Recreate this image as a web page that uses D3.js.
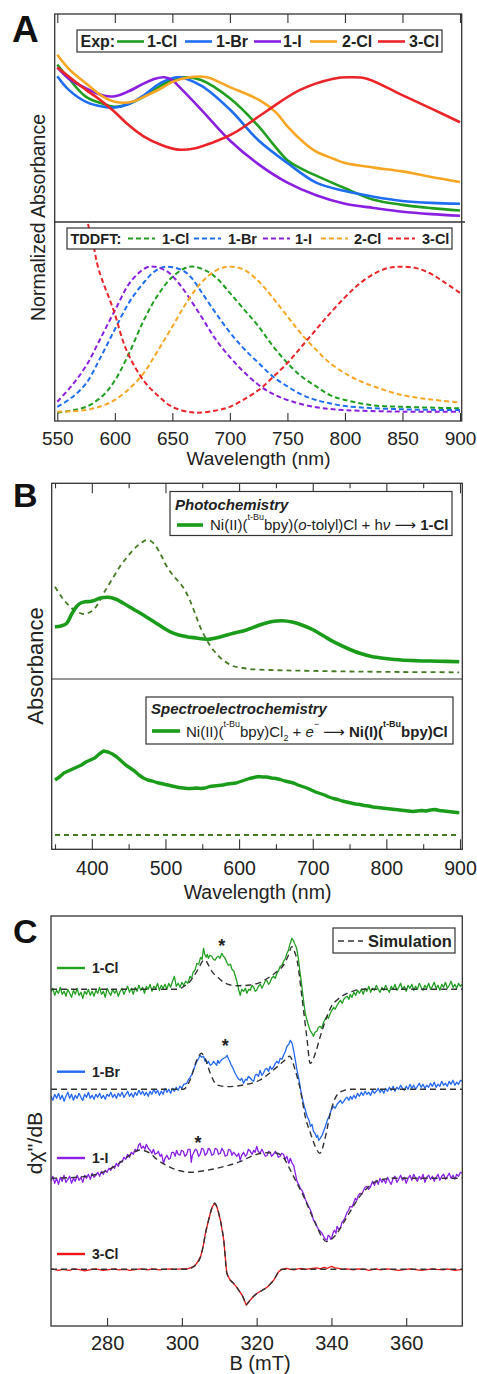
<!DOCTYPE html>
<html lang="en">
<head>
<meta charset="UTF-8">
<title>Ni(I) spectra</title>
<script src="https://d3js.org/d3.v7.min.js"></script>
<style>
  body { margin: 0; background: #fff; }
  text { font-family: "Liberation Sans", Arial, "DejaVu Sans", sans-serif; fill: #222; }
</style>
</head>
<body>
<svg id="fig" width="477" height="1374"></svg>
<script>
// ---------- panel A : normalized UV-vis, experiment (top) and TDDFT (bottom) ----------
const namesA = ["1-Cl", "1-Br", "1-I", "2-Cl", "3-Cl"]
const colorsA = ["#1f9e1f", "#1f6ef2", "#8a1fe0", "#f6a623", "#ea2428"]

const exp1Cl = [[550,1.09],[560,0.99],[575,0.86],[590,0.81],[600,0.79],[612,0.81],[625,0.86],[640,0.94],[650,0.98],[660,1.0],[675,0.98],[700,0.85],[725,0.65],[737,0.53],[750,0.41],[762,0.35],[775,0.30],[800,0.21],[825,0.128],[850,0.092],[875,0.069],[900,0.052]]
const exp1Br = [[550,1.007],[560,0.91],[575,0.825],[590,0.79],[600,0.785],[612,0.81],[625,0.87],[640,0.96],[655,1.0],[675,0.94],[700,0.77],[725,0.55],[750,0.39],[775,0.25],[800,0.19],[825,0.15],[850,0.12],[875,0.106],[900,0.10]]
const exp1I = [[550,1.07],[560,0.99],[575,0.92],[590,0.87],[600,0.865],[612,0.90],[625,0.955],[635,0.99],[643,1.0],[650,0.98],[655,0.94],[675,0.77],[700,0.55],[725,0.38],[750,0.25],[775,0.16],[800,0.10],[825,0.07],[850,0.043],[875,0.026],[900,0.014]]
const exp2Cl = [[550,1.16],[560,1.06],[575,0.955],[590,0.86],[600,0.825],[615,0.825],[625,0.86],[640,0.92],[650,0.967],[665,1.0],[680,1.0],[700,0.93],[725,0.84],[740,0.75],[750,0.65],[765,0.53],[775,0.47],[790,0.42],[800,0.39],[825,0.357],[850,0.33],[875,0.29],[900,0.255]]
const exp3Cl = [[550,1.07],[575,0.91],[587,0.84],[599,0.76],[612,0.66],[625,0.58],[640,0.52],[655,0.485],[670,0.495],[685,0.535],[703,0.60],[732,0.76],[761,0.91],[790,0.99],[804,1.0],[819,0.99],[848,0.88],[877,0.77],[900,0.68]]

const td1Cl = [[550,0.0],[575,0.04],[590,0.12],[600,0.22],[612,0.40],[625,0.63],[637,0.80],[650,0.93],[665,1.0],[680,0.97],[690,0.91],[700,0.82],[712,0.71],[725,0.59],[737,0.46],[750,0.34],[762,0.25],[775,0.18],[787,0.12],[800,0.087],[825,0.05],[850,0.04],[900,0.03]]
const td1Br = [[550,0.04],[562,0.10],[575,0.20],[587,0.37],[600,0.57],[612,0.75],[625,0.89],[635,0.97],[645,1.0],[660,0.97],[667,0.92],[675,0.83],[687,0.69],[700,0.55],[712,0.44],[725,0.34],[737,0.25],[750,0.18],[762,0.125],[775,0.087],[800,0.046],[850,0.023],[900,0.018]]
const td1I = [[550,0.075],[562,0.18],[575,0.32],[587,0.50],[600,0.70],[615,0.91],[630,1.0],[645,0.97],[652,0.92],[660,0.84],[675,0.66],[687,0.51],[700,0.38],[712,0.28],[725,0.19],[737,0.13],[750,0.087],[775,0.037],[800,0.018],[850,0.007],[900,0.007]]
const td2Cl = [[550,0.007],[575,0.018],[590,0.05],[600,0.087],[612,0.16],[625,0.27],[637,0.42],[650,0.59],[662,0.75],[675,0.89],[687,0.97],[698,1.0],[712,0.98],[725,0.90],[737,0.79],[750,0.66],[762,0.54],[775,0.43],[787,0.34],[800,0.27],[812,0.22],[825,0.18],[850,0.12],[875,0.09],[900,0.07]]
const td3Cl = [[550,2.2],[565,1.6],[576,1.31],[581,1.16],[586,0.98],[599,0.70],[610,0.43],[625,0.22],[637,0.12],[650,0.04],[670,0.0],[690,0.018],[700,0.04],[712,0.09],[725,0.155],[737,0.24],[750,0.34],[762,0.45],[775,0.57],[787,0.68],[800,0.79],[812,0.88],[825,0.95],[837,0.99],[848,1.0],[862,0.99],[875,0.95],[887,0.89],[900,0.82]]

const ticksA = [550, 600, 650, 700, 750, 800, 850, 900]

// ---------- panel B : absorbance ----------
const photoSolid = [[350,0.523],[358,0.53],[366,0.557],[372,0.64],[379,0.723],[385,0.76],[391,0.773],[397,0.775],[402,0.783],[412,0.81],[422,0.817],[432,0.80],[443,0.757],[456,0.70],[470,0.64],[488,0.555],[506,0.473],[518,0.44],[529,0.423],[542,0.41],[556,0.397],[574,0.42],[592,0.457],[610,0.49],[628,0.54],[645,0.575],[658,0.583],[672,0.57],[687,0.535],[701,0.49],[715,0.43],[728,0.373],[746,0.31],[764,0.257],[780,0.225],[796,0.207],[820,0.19],[841,0.183],[870,0.178],[899,0.173]]
const photoDash = [[350,0.923],[358,0.83],[366,0.757],[376,0.69],[388,0.65],[395,0.66],[402,0.69],[409,0.76],[416,0.857],[427,0.99],[438,1.123],[447,1.21],[456,1.29],[465,1.35],[474,1.39],[480,1.38],[486,1.34],[494,1.24],[502,1.123],[511,1.03],[520,0.957],[527,0.88],[533,0.79],[540,0.66],[547,0.523],[556,0.39],[565,0.29],[578,0.19],[592,0.13],[605,0.11],[619,0.097],[650,0.088],[683,0.083],[750,0.075],[820,0.07],[899,0.067]]
const secSolid = [[350,0.59],[356,0.62],[362,0.66],[368,0.68],[374,0.70],[380,0.72],[386,0.74],[392,0.77],[398,0.79],[404,0.81],[410,0.85],[416,0.88],[422,0.87],[428,0.85],[434,0.82],[440,0.78],[446,0.74],[452,0.71],[458,0.68],[464,0.64],[470,0.61],[476,0.59],[482,0.58],[488,0.565],[494,0.555],[500,0.545],[506,0.535],[512,0.525],[518,0.515],[524,0.51],[530,0.505],[536,0.505],[542,0.51],[548,0.505],[554,0.51],[560,0.525],[566,0.53],[572,0.535],[578,0.54],[584,0.55],[590,0.555],[596,0.56],[602,0.575],[608,0.59],[614,0.605],[620,0.615],[626,0.625],[632,0.62],[638,0.62],[644,0.61],[650,0.605],[656,0.595],[662,0.58],[668,0.57],[674,0.56],[680,0.54],[686,0.525],[692,0.51],[698,0.49],[704,0.47],[710,0.455],[716,0.44],[722,0.42],[728,0.405],[734,0.395],[740,0.38],[746,0.37],[752,0.36],[758,0.35],[764,0.345],[770,0.335],[776,0.33],[782,0.32],[788,0.315],[794,0.31],[800,0.305],[806,0.30],[812,0.295],[818,0.29],[824,0.285],[830,0.28],[836,0.275],[842,0.28],[848,0.285],[854,0.28],[860,0.29],[866,0.295],[872,0.285],[878,0.28],[884,0.275],[890,0.27],[899,0.263]]
const secDash = [[350,0.04],[899,0.04]]

const majorB = [400, 500, 600, 700, 800, 900]
const minorB = [350, 450, 550, 650, 750, 850]

// ---------- panel C : EPR, B in mT, signal in arbitrary units ----------
const namesC = ["1-Cl", "1-Br", "1-I", "3-Cl"]
const colorsC = ["#22a022", "#2468f2", "#8b1fe6", "#ee1414"]
const offsetsC = [33.67, 23.67, 14.77, 5.67]

const epr1Cl = [[265,-0.3],[265.5,0.1],[266,-0.6],[266.5,-0.1],[267,-0.4],[267.5,0.2],[268,-0.5],[268.5,-0.2],[269,-0.7],[269.5,0.0],[270,-0.4],[270.5,-0.8],[271,-0.1],[271.5,-0.5],[272,0.1],[272.5,-0.6],[273,-0.3],[273.5,-0.9],[274,-0.2],[274.5,-0.5],[275,0.0],[275.5,-0.6],[276,-0.2],[276.5,-0.7],[277,-0.1],[277.5,-0.4],[278,0.2],[278.5,-0.5],[279,-0.2],[279.5,-0.8],[280,0.1],[280.5,-0.3],[281,-0.6],[281.5,0.0],[282,-0.4],[282.5,-0.1],[283,-0.7],[283.5,-0.2],[284,0.1],[284.5,-0.5],[285,-0.1],[285.5,0.3],[286,-0.3],[286.5,0.1],[287,-0.5],[287.5,0.2],[288,-0.2],[288.5,0.4],[289,-0.1],[289.5,0.2],[290,-0.4],[290.5,0.3],[291,0.0],[291.5,0.5],[292,-0.2],[292.5,0.3],[293,0.1],[293.5,0.6],[294,-0.1],[294.5,0.4],[295,0.1],[295.5,0.5],[296,0.0],[296.5,0.6],[297,0.2],[297.5,0.8],[298,1.3],[298.5,0.3],[299,0.6],[299.5,0.2],[300,0.7],[300.5,0.4],[301,0.8],[301.6,0.6],[302.2,1.3],[302.6,1.1],[303,1.7],[303.5,1.9],[304,2.6],[304.5,2.5],[305,3.2],[305.4,3.0],[305.8,4.1],[306.2,3.4],[306.5,3.2],[306.8,3.5],[307.1,3.1],[307.5,3.4],[308,3.3],[308.4,3.0],[308.9,2.9],[309.3,3.2],[309.8,3.3],[310.2,3.1],[310.7,3.6],[311.1,3.3],[311.6,3.1],[312,2.7],[312.5,2.4],[313,2.5],[313.4,2.0],[313.9,1.8],[314.3,1.3],[314.7,0.8],[315,0.3],[315.3,-0.2],[315.6,-0.6],[316,0.0],[316.5,-0.2],[317,0.1],[317.4,-0.4],[317.9,0.0],[318.3,-0.1],[318.8,0.4],[319.2,0.2],[319.6,-0.2],[320,-0.1],[320.5,0.3],[321,0.5],[321.4,0.1],[321.8,0.4],[322.3,0.8],[322.7,0.9],[323.2,0.5],[323.6,0.7],[324,1.1],[324.5,1.3],[325,1.1],[325.4,1.6],[325.9,1.9],[326.3,2.3],[326.8,2.4],[327.2,2.8],[327.7,3.1],[328.1,3.6],[328.5,3.9],[328.8,4.4],[329.1,4.7],[329.4,5.1],[329.8,4.9],[330.1,4.6],[330.5,4.3],[330.8,3.9],[331.2,3.0],[331.5,2.0],[331.8,1.2],[332.1,0.3],[332.5,-1.0],[333,-2.4],[333.6,-3.3],[334.3,-4.1],[334.8,-4.4],[335.2,-4.7],[335.6,-4.3],[336.1,-4.2],[336.5,-3.8],[337,-3.7],[337.4,-3.9],[337.9,-3.3],[338.3,-3.0],[338.8,-2.7],[339.2,-2.9],[339.7,-2.4],[340.1,-2.1],[340.6,-1.8],[341,-2.0],[341.5,-1.6],[342,-1.3],[342.4,-1.1],[342.9,-1.4],[343.3,-1.0],[343.8,-0.8],[344.2,-0.7],[344.7,-1.0],[345,-0.5],[345.5,-0.8],[346,-0.3],[346.5,-0.6],[347,-0.1],[347.5,-0.4],[348,0.0],[348.5,-0.5],[349,0.1],[349.5,-0.2],[350,0.3],[350.5,-0.3],[351,0.1],[351.5,-0.1],[352,0.4],[352.5,0.0],[353,-0.3],[353.5,0.2],[354,-0.1],[354.5,0.4],[355,0.0],[355.5,-0.3],[356,0.3],[356.5,0.0],[357,0.5],[357.5,-0.1],[358,0.2],[358.5,0.6],[359,0.0],[359.5,0.3],[360,-0.2],[360.5,0.4],[361,0.1],[361.5,0.5],[362,-0.1],[362.5,0.3],[363,0.0],[363.5,0.6],[364,0.2],[364.5,-0.1],[365,0.4],[365.5,0.1],[366,0.6],[366.5,0.0],[367,0.3],[367.5,0.7],[368,0.1],[368.5,0.4],[369,-0.1],[369.5,0.5],[370,0.2],[370.5,0.7],[371,0.1],[371.5,0.4],[372,0.8],[372.5,0.2],[373,0.5],[373.5,0.1],[374,0.6],[374.5,0.3],[375,0.5]]
const sim1Cl = [[265,0],[299,0],[300.4,0.27],[302,0.7],[303.1,1.27],[304.5,2.1],[305.5,2.8],[306.2,2.93],[307.1,2.43],[308.2,1.7],[309.4,1.27],[311,0.75],[313,0.43],[315.5,0.35],[318.3,0.43],[321,0.7],[323.6,1.27],[325.5,1.8],[327.2,2.43],[328.5,3.4],[329.4,4.27],[330.1,3.8],[330.8,2.93],[332.1,-0.73],[333.5,-5.07],[334.3,-7.4],[335.7,-6.4],[337,-4.73],[338.8,-2.73],[340,-1.7],[341.5,-1.07],[344.2,-0.4],[346,-0.15],[348,0],[375,0]]

const epr1Br = [[265,-0.7],[265.5,-1.1],[266,-0.5],[266.5,-0.9],[267,-0.4],[267.5,-1.0],[268,-0.6],[268.5,-1.2],[269,-0.7],[269.5,-0.3],[270,-0.9],[270.5,-0.5],[271,-1.1],[271.5,-0.6],[272,-0.9],[272.5,-0.4],[273,-0.8],[273.5,-1.1],[274,-0.5],[274.5,-0.8],[275,-0.3],[275.5,-0.9],[276,-0.6],[276.5,-1.0],[277,-0.5],[277.5,-0.8],[278,-0.4],[278.5,-0.9],[279,-0.6],[279.5,-1.0],[280,-0.5],[280.5,-0.7],[281,-0.3],[281.5,-0.8],[282,-0.5],[282.5,-0.9],[283,-0.4],[283.5,-0.7],[284,-0.3],[284.5,-0.8],[285,-0.5],[285.5,-0.2],[286,-0.7],[286.5,-0.4],[287,-0.8],[287.5,-0.3],[288,-0.6],[288.5,-0.1],[289,-0.5],[289.5,-0.2],[290,-0.6],[290.5,-0.3],[291,-0.7],[291.5,-0.2],[292,-0.5],[292.5,0.0],[293,-0.4],[293.5,-0.1],[294,-0.6],[294.5,-0.2],[295,-0.5],[295.5,0.1],[296,-0.3],[296.5,0.0],[297,-0.4],[297.5,0.1],[298,-0.2],[298.5,0.2],[299,-0.1],[299.5,0.3],[300,0.1],[300.5,0.5],[301.3,0.6],[301.8,1.0],[302.2,1.2],[302.7,1.5],[303.1,1.9],[303.6,2.4],[304,2.8],[304.5,3.1],[304.9,3.4],[305.3,3.2],[305.8,3.3],[306.2,2.8],[306.5,2.9],[306.8,2.6],[307.1,2.8],[307.6,2.4],[308,2.5],[308.5,2.8],[308.9,2.6],[309.3,2.4],[309.6,2.9],[310,2.6],[310.3,2.8],[310.8,3.0],[311.2,3.1],[311.7,3.2],[312.1,3.4],[312.5,3.0],[312.8,2.8],[313.1,2.5],[313.4,2.3],[313.8,2.0],[314.1,1.7],[314.4,1.5],[314.7,1.3],[315.2,1.0],[315.6,0.9],[316,1.1],[316.5,0.6],[317,1.0],[317.4,0.9],[317.8,1.3],[318.3,1.1],[318.8,0.9],[319.2,0.8],[319.6,1.4],[320,1.5],[320.5,1.3],[320.9,1.9],[321.4,1.4],[321.8,1.6],[322.3,2.0],[322.7,2.1],[323.2,1.8],[323.6,2.3],[324,2.0],[324.5,2.2],[325,2.6],[325.4,2.8],[325.9,2.6],[326.3,3.1],[326.8,3.0],[327.2,3.4],[327.7,3.8],[328.1,4.3],[328.6,4.5],[329,4.9],[329.5,4.6],[329.9,3.9],[330.4,2.8],[330.8,1.9],[331.2,1.2],[331.5,0.6],[331.8,-0.1],[332.1,-0.7],[332.8,-1.8],[333.5,-2.7],[334,-3.1],[334.4,-3.7],[334.8,-3.5],[335.2,-4.2],[335.6,-4.4],[336,-4.8],[336.3,-4.6],[336.6,-5.1],[337,-4.9],[337.5,-4.6],[338,-4.1],[338.4,-3.7],[339,-3.0],[339.5,-2.6],[340,-2.0],[340.6,-1.7],[341,-1.9],[341.5,-1.5],[342,-1.3],[342.4,-1.1],[342.9,-1.4],[343.3,-1.2],[343.8,-0.9],[344.2,-0.8],[344.7,-1.1],[345.1,-0.7],[345.5,-1.0],[346,-0.6],[346.5,-0.9],[347,-0.4],[347.5,-0.7],[348,-0.3],[348.5,-0.6],[349,-0.2],[349.5,-0.5],[350,-0.3],[350.5,-0.6],[351,-0.1],[351.5,-0.4],[352,-0.2],[352.5,0.1],[353,-0.3],[353.5,0.0],[354,-0.4],[354.5,0.1],[355,-0.2],[355.5,0.2],[356,-0.1],[356.5,0.3],[357,-0.2],[357.5,0.2],[358,0.0],[358.5,0.4],[359,0.1],[359.5,-0.1],[360,0.3],[360.5,0.0],[361,0.5],[361.5,0.1],[362,0.4],[362.5,0.0],[363,0.3],[363.5,0.6],[364,0.2],[364.5,0.5],[365,0.1],[365.5,0.4],[366,0.2],[366.5,0.6],[367,0.3],[367.5,0.7],[368,0.2],[368.5,0.5],[369,0.3],[369.5,0.8],[370,0.4],[370.5,0.6],[371,0.3],[371.5,0.8],[372,0.5],[372.5,0.9],[373,0.4],[373.5,0.7],[374,0.5],[374.5,0.9],[375,0.8]]
const sim1Br = [[265,0],[300.4,0],[302.2,0.93],[304,2.93],[305.2,3.6],[306.2,3.1],[307.6,1.6],[309.4,0.43],[312.1,0.27],[316.5,0.43],[320.9,0.93],[324.5,1.93],[327.2,2.8],[328.8,3.3],[330.3,1.93],[331.7,-0.07],[333,-2.73],[334.4,-4.4],[335.7,-5.73],[336.9,-6.4],[338.4,-4.73],[339.7,-2.4],[341.5,-0.57],[343.3,-0.13],[345,0],[375,0]]

const epr1I = [[265,-0.3],[265.5,0.2],[266,-0.5],[266.5,0.0],[267,-0.6],[267.5,0.1],[268,-0.3],[268.5,0.3],[269,-0.4],[269.5,-0.1],[270,0.2],[270.5,-0.5],[271,0.0],[271.5,-0.3],[272,0.3],[272.5,-0.2],[273,0.1],[273.5,-0.4],[274,0.3],[274.5,0.0],[275,0.4],[275.5,-0.1],[276,0.5],[276.5,0.1],[277,0.3],[277.5,0.6],[278,0.2],[278.5,0.7],[279,0.4],[279.5,0.8],[280,0.6],[280.5,1.0],[281,0.8],[281.5,1.2],[282,1.0],[282.5,1.5],[283,1.2],[283.5,1.7],[284,1.6],[284.5,2.1],[285,1.9],[285.5,2.4],[286,2.1],[286.5,2.6],[287,2.4],[287.5,2.9],[288,2.7],[288.4,3.3],[288.8,3.5],[289.2,3.0],[289.7,3.2],[290.1,2.9],[290.5,3.4],[291,3.0],[291.5,2.8],[292,2.5],[292.4,2.9],[292.8,2.4],[293.3,2.5],[293.7,2.7],[294.2,2.2],[294.6,2.4],[295.1,1.5],[295.5,2.0],[296,2.3],[296.5,1.9],[296.9,2.0],[297.3,2.6],[297.8,2.6],[298.2,2.2],[298.6,2.8],[299,2.4],[299.5,2.3],[299.9,2.8],[300.4,2.7],[300.8,2.2],[301.3,2.4],[301.7,2.9],[302.2,2.9],[302.5,1.6],[302.8,2.3],[303.1,2.5],[303.6,2.9],[304,2.8],[304.5,2.2],[304.9,2.4],[305.3,3.0],[305.8,2.9],[306.2,2.3],[306.7,2.5],[307.1,3.0],[307.6,2.8],[308,2.3],[308.5,2.4],[308.9,3.0],[309.4,2.9],[309.8,2.4],[310.3,2.5],[310.7,3.0],[311.2,2.7],[311.6,2.2],[312.1,2.3],[312.5,2.9],[313,2.8],[313.4,2.3],[313.8,2.6],[314.3,2.4],[314.7,2.2],[315.2,2.5],[315.6,1.8],[316,2.3],[316.5,2.6],[317,2.2],[317.4,2.4],[317.8,2.9],[318.3,2.7],[318.8,2.4],[319.2,2.8],[319.6,2.6],[320,3.2],[320.4,2.7],[320.9,2.5],[321.4,2.9],[321.8,2.6],[322.3,2.2],[322.8,2.3],[323.2,2.7],[323.6,2.6],[324,2.2],[324.5,2.4],[325,2.7],[325.4,2.5],[325.8,2.1],[326.3,2.2],[326.7,2.5],[327.2,2.4],[327.6,1.9],[328.1,2.2],[328.6,1.5],[329,2.0],[329.5,1.5],[329.9,1.3],[330.4,0.4],[330.8,-0.3],[331.2,-0.6],[331.7,-1.0],[332.1,-1.2],[332.6,-1.6],[333,-2.1],[333.5,-2.5],[334,-2.9],[334.4,-3.2],[334.8,-3.6],[335.2,-4.2],[335.7,-4.4],[336.1,-4.8],[336.5,-5.1],[337,-5.3],[337.5,-5.5],[337.9,-5.8],[338.4,-6.1],[338.8,-6.2],[339.1,-5.7],[339.5,-5.8],[339.8,-6.1],[340.1,-5.9],[340.5,-5.4],[340.8,-5.2],[341.2,-5.5],[341.5,-4.8],[342,-5.1],[342.4,-5.0],[342.8,-4.4],[343.3,-4.2],[343.7,-3.9],[344.2,-3.4],[344.6,-3.2],[345,-2.8],[345.5,-2.9],[345.9,-2.5],[346.4,-2.0],[346.8,-2.2],[347.2,-1.7],[347.7,-1.5],[348.1,-1.6],[348.6,-1.2],[349,-0.9],[349.5,-0.8],[349.9,-1.1],[350.4,-0.9],[351,-0.3],[351.5,-0.7],[352,-0.2],[352.5,-0.6],[353,0.0],[353.5,-0.4],[354,-0.1],[354.5,-0.5],[355,0.1],[355.5,-0.3],[356,-0.6],[356.5,0.0],[357,0.2],[357.5,-0.4],[358,-0.1],[358.5,0.3],[359,-0.2],[359.5,0.1],[360,-0.5],[360.5,0.0],[361,0.3],[361.5,-0.2],[362,0.4],[362.5,0.0],[363,-0.3],[363.5,0.2],[364,-0.1],[364.5,0.4],[365,-0.4],[365.5,0.1],[366,0.3],[366.5,-0.1],[367,0.2],[367.5,-0.3],[368,0.1],[368.5,0.4],[369,-0.2],[369.5,0.2],[370,0.4],[370.5,-0.1],[371,0.2],[371.5,0.5],[372,0.0],[372.5,0.3],[373,-0.1],[373.5,0.4],[374,0.2],[374.5,0.6],[375,0.5]]
const sim1I = [[265,0],[273.7,0.17],[278,0.5],[282.6,1.33],[286,2.3],[288.8,2.83],[291.5,2.5],[293.3,1.9],[296.9,1.1],[299.5,0.75],[302.2,0.6],[305,0.7],[309.4,1.0],[312.5,1.3],[315.6,1.67],[318,2.1],[320,2.4],[322.8,2.55],[325.4,2.5],[327.3,2.0],[329,0.83],[330.8,-0.5],[332.6,-1.83],[334.5,-3.5],[336.1,-4.83],[337.5,-5.9],[338.6,-6.33],[340,-6.1],[341.5,-5.5],[343.3,-4.4],[345,-3.33],[347.2,-2.0],[349.5,-1.0],[351.5,-0.4],[354,-0.1],[356,0],[375,0]]

const epr3Cl = [[265,0.05],[267,-0.1],[268,0.0],[270,-0.1],[271,0.05],[273,-0.05],[274,-0.15],[276,0.0],[277,0.05],[279,-0.1],[280,-0.05],[282,0.05],[283,-0.05],[285,0.0],[286,-0.1],[288,0.0],[289,0.05],[291,-0.05],[292,0.05],[294,-0.05],[295,0.0],[297,0.05],[298,0.0],[300,0.05],[301.5,0.05],[303.1,0.27],[304,0.6],[305,1.27],[305.7,2.3],[306.3,3.6],[307,4.7],[307.6,5.6],[308.2,6.3],[308.8,6.6],[309.4,6.2],[310.3,4.93],[311.2,2.93],[312,-0.4],[312.9,-1.07],[313.8,-1.4],[314.7,-1.8],[315.4,-2.2],[316.1,-2.57],[316.7,-3.1],[317.2,-3.57],[317.8,-3.3],[318.3,-3.07],[319.2,-2.7],[320.1,-2.4],[321.5,-2.1],[322.8,-1.8],[323.7,-1.45],[324.6,-1.07],[325.3,-0.6],[325.9,-0.23],[326.8,0.0],[328,0.1],[329,0.0],[330,-0.05],[331,0.05],[332,0.1],[333,0.0],[334,0.05],[336,0.15],[337,0.05],[338,0.2],[339,0.1],[340,0.3],[341,0.15],[342,0.1],[343,0.0],[344,0.05],[346,-0.05],[347,0.05],[349,0.0],[350,-0.1],[352,0.05],[353,-0.05],[355,0.05],[356,0.0],[358,-0.1],[359,-0.05],[361,0.05],[362,0.0],[364,-0.1],[365,-0.05],[367,0.05],[368,0.0],[370,-0.05],[371,0.05],[373,-0.1],[374,-0.05],[375,0.0]]
const sim3Cl = [[265,0],[301.5,0],[303.1,0.25],[304,0.55],[305,1.25],[305.7,2.3],[306.3,3.6],[307,4.7],[307.6,5.6],[308.2,6.3],[308.8,6.6],[309.4,6.2],[310.3,4.9],[311.2,2.9],[312,-0.3],[312.9,-1.05],[313.8,-1.4],[314.7,-1.8],[315.4,-2.2],[316.1,-2.57],[316.7,-3.1],[317.2,-3.55],[317.8,-3.3],[318.3,-3.05],[319.2,-2.7],[320.1,-2.4],[321.5,-2.1],[322.8,-1.8],[323.7,-1.45],[324.6,-1.05],[325.3,-0.6],[325.9,-0.2],[326.8,0],[375,0]]

const starB = [310.7, 311.6, 304.3]
const starLevel = [38.4, 28.4, 18.7]
const ticksC = [280, 300, 320, 340, 360]

// ---------- drawing ----------
const svg = d3.select("#fig")
const frame = "#333"

function plotLine(g, data, x, y, color, width, dash, curve) {
  g.append("path")
    .datum(data)
    .attr("fill", "none")
    .attr("stroke", color)
    .attr("stroke-width", width)
    .attr("stroke-dasharray", dash)
    .attr("stroke-linejoin", "round")
    .attr("d", d3.line().x(d => x(d[0])).y(d => y(d[1])).curve(curve))
}

function clipRect(id, x0, y0, x1, y1) {
  svg.append("clipPath").attr("id", id).append("rect")
    .attr("x", x0).attr("y", y0).attr("width", x1 - x0).attr("height", y1 - y0)
  return svg.append("g").attr("clip-path", "url(#" + id + ")")
}

function styleAxis(g, size) {
  g.select(".domain").remove()
  g.attr("font-family", null).attr("font-size", size).attr("color", frame)
  g.selectAll("text").style("fill", "#222")
  g.selectAll("line").attr("stroke-width", 1.1)
}

// rich text: parts = [{t, b, i, sup, sub}]
function richText(parent, x, y, size, parts) {
  const t = parent.append("text").attr("x", x).attr("y", y).attr("font-size", size)
  let shift = 0
  parts.forEach(p => {
    const want = p.sup ? -10 : p.sub ? 4 : 0
    const s = t.append("tspan").attr("dy", want - shift).text(p.t)
    shift = want
    if (p.sup || p.sub) s.attr("font-size", size * 0.6)
    if (p.b) s.attr("font-weight", "bold")
    if (p.i) s.attr("font-style", "italic")
  })
  return t
}

// ===== Panel A =====
const xA = d3.scaleLinear().domain([550, 900]).range([57.3, 460])
const yA1 = d3.scaleLinear().domain([-0.03, 1.45]).range([222, 14])
const yA2 = d3.scaleLinear().domain([-0.057, 1.306]).range([421, 222])

const gA1 = clipRect("clipA1", 54.7, 14, 461.7, 222)
const gA2 = clipRect("clipA2", 54.7, 222, 461.7, 421)
const smooth = d3.curveCatmullRom.alpha(0.5)

const expA = [exp1Cl, exp1Br, exp1I, exp2Cl, exp3Cl]
const tdA = [td1Cl, td1Br, td1I, td2Cl, td3Cl]
expA.forEach((s, i) => plotLine(gA1, s, xA, yA1, colorsA[i], 2.6, null, smooth))
tdA.forEach((s, i) => plotLine(gA2, s, xA, yA2, colorsA[i], 2, "5,3", smooth))

svg.append("rect").attr("x", 54.7).attr("y", 14).attr("width", 407).attr("height", 407)
  .attr("fill", "none").attr("stroke", frame).attr("stroke-width", 1.3)
svg.append("line").attr("x1", 54.7).attr("x2", 465).attr("y1", 222).attr("y2", 222)
  .attr("stroke", frame).attr("stroke-width", 1.3)

svg.append("g").attr("transform", "translate(0,421)")
  .call(d3.axisBottom(xA).tickValues(ticksA).tickSize(-8).tickPadding(10.5))
  .call(g => styleAxis(g, 19))
svg.append("g").attr("transform", "translate(0,14)")
  .call(d3.axisTop(xA).tickValues(ticksA).tickSize(-9).tickFormat(""))
  .call(g => styleAxis(g, 19))

// legends A
function legendA(yBox, hBox, xBox, wBox, title, size, sampleX, labelX, dash, base) {
  svg.append("rect").attr("x", xBox).attr("y", yBox).attr("width", wBox).attr("height", hBox)
    .attr("fill", "#fff").attr("stroke", frame).attr("stroke-width", 1.2)
  svg.append("text").attr("x", xBox + 3.5).attr("y", base).attr("font-size", size)
    .attr("font-weight", "bold").text(title)
  namesA.forEach((n, i) => {
    svg.append("line").attr("x1", sampleX[i]).attr("x2", sampleX[i] + 27)
      .attr("y1", base - 5).attr("y2", base - 5)
      .attr("stroke", colorsA[i]).attr("stroke-width", dash ? 2 : 2.6).attr("stroke-dasharray", dash)
    svg.append("text").attr("x", labelX[i]).attr("y", base).attr("font-size", size)
      .attr("font-weight", "bold").text(n)
  })
}
legendA(30, 22, 77, 365, "Exp:", 16, [117, 185, 254, 310, 378], [147, 216, 283, 342, 409], null, 46.5)
legendA(228, 21, 67, 385, "TDDFT:", 14.5, [128, 194, 263, 321, 388], [162, 228, 295, 354, 422], "5,3", 243.5)

svg.append("text").attr("transform", "translate(45,217.5) rotate(-90)")
  .attr("text-anchor", "middle").attr("font-size", 19.5).text("Normalized Absorbance")
svg.append("text").attr("x", 258.5).attr("y", 465).attr("text-anchor", "middle")
  .attr("font-size", 19).text("Wavelength (nm)")
svg.append("text").attr("x", 12).attr("y", 41.5).attr("font-size", 37)
  .attr("font-weight", "bold").style("fill", "#111").text("A")

// ===== Panel B =====
const xB = d3.scaleLinear().domain([350, 900]).range([55, 460])
const yB1 = d3.scaleLinear().domain([0, 1.957]).range([679, 483.3])
const yB2 = d3.scaleLinear().domain([-0.103, 1.6]).range([849.3, 679])
const greenB = "#1a9c1a", oliveB = "#447a22"

const gB1 = clipRect("clipB1", 51.7, 483.3, 462.3, 679)
const gB2 = clipRect("clipB2", 51.7, 679, 462.3, 849.3)
plotLine(gB1, photoDash, xB, yB1, oliveB, 1.8, "5,4", smooth)
plotLine(gB1, photoSolid, xB, yB1, greenB, 3.6, null, smooth)
plotLine(gB2, secDash, xB, yB2, oliveB, 1.8, "5,4", d3.curveLinear)
plotLine(gB2, secSolid, xB, yB2, greenB, 3.4, null, d3.curveLinear)

svg.append("rect").attr("x", 51.7).attr("y", 483.3).attr("width", 410.6).attr("height", 366)
  .attr("fill", "none").attr("stroke", frame).attr("stroke-width", 1.3)
svg.append("line").attr("x1", 51.7).attr("x2", 463).attr("y1", 679).attr("y2", 679)
  .attr("stroke", frame).attr("stroke-width", 1.1)

svg.append("g").attr("transform", "translate(0,849.3)")
  .call(d3.axisBottom(xB).tickValues(majorB).tickSize(-10).tickPadding(12))
  .call(g => styleAxis(g, 19.5))
svg.append("g").attr("transform", "translate(0,849.3)")
  .call(d3.axisBottom(xB).tickValues(minorB).tickSize(-5).tickFormat(""))
  .call(g => styleAxis(g, 19.5))
svg.append("g").attr("transform", "translate(0,483.3)")
  .call(d3.axisTop(xB).tickValues(majorB).tickSize(-10).tickFormat(""))
  .call(g => styleAxis(g, 19.5))
svg.append("g").attr("transform", "translate(0,483.3)")
  .call(d3.axisTop(xB).tickValues(minorB).tickSize(-5).tickFormat(""))
  .call(g => styleAxis(g, 19.5))

// legend B (photochemistry)
svg.append("rect").attr("x", 170).attr("y", 491.5).attr("width", 282).attr("height", 44)
  .attr("fill", "#fff").attr("stroke", frame).attr("stroke-width", 1.2)
svg.append("text").attr("x", 175).attr("y", 510).attr("font-size", 15)
  .attr("font-weight", "bold").attr("font-style", "italic").text("Photochemistry")
svg.append("line").attr("x1", 177).attr("x2", 203).attr("y1", 525).attr("y2", 525)
  .attr("stroke", greenB).attr("stroke-width", 3.6)
richText(svg, 210, 530, 15, [
  { t: "Ni(II)(" }, { t: "t-Bu", sup: true }, { t: "bpy)(" }, { t: "o", i: true },
  { t: "-tolyl)Cl + h" }, { t: "ν", i: true }, { t: " ⟶ " }, { t: "1-Cl", b: true }
])

// legend B (spectroelectrochemistry)
svg.append("rect").attr("x", 146).attr("y", 697).attr("width", 307).attr("height", 47)
  .attr("fill", "#fff").attr("stroke", frame).attr("stroke-width", 1.2)
svg.append("text").attr("x", 151).attr("y", 714).attr("font-size", 15)
  .attr("font-weight", "bold").attr("font-style", "italic").text("Spectroelectrochemistry")
svg.append("line").attr("x1", 152).attr("x2", 180).attr("y1", 731).attr("y2", 731)
  .attr("stroke", greenB).attr("stroke-width", 3.6)
richText(svg, 186, 737, 15, [
  { t: "Ni(II)(" }, { t: "t-Bu", sup: true }, { t: "bpy)Cl" }, { t: "2", sub: true },
  { t: " + " }, { t: "e", i: true }, { t: "−", sup: true }, { t: " ⟶ " },
  { t: "Ni(I)(", b: true }, { t: "t-Bu", sup: true, b: true }, { t: "bpy)Cl", b: true }
])

svg.append("text").attr("transform", "translate(42.5,666) rotate(-90)")
  .attr("text-anchor", "middle").attr("font-size", 22).text("Absorbance")
svg.append("text").attr("x", 257.5).attr("y", 899).attr("text-anchor", "middle")
  .attr("font-size", 19.5).text("Wavelength (nm)")
svg.append("text").attr("x", 13).attr("y", 506.5).attr("font-size", 34)
  .attr("font-weight", "bold").style("fill", "#111").text("B")

// ===== Panel C =====
const xC = d3.scaleLinear().domain([265, 375]).range([51, 462.3])
const yC = d3.scaleLinear().domain([0, 41]).range([1326, 916])

const gC = clipRect("clipC", 51, 916, 462.3, 1326)
const eprExp = [epr1Cl, epr1Br, epr1I, epr3Cl]
const eprSim = [sim1Cl, sim1Br, sim1I, sim3Cl]
eprExp.forEach((s, i) => {
  const off = offsetsC[i]
  plotLine(gC, s, xC, v => yC(off + v), colorsC[i], 1.3, null, d3.curveLinear)
})
eprSim.forEach((s, i) => {
  const off = offsetsC[i]
  plotLine(gC, s, xC, v => yC(off + v), "#333", 1.4, "6,4", d3.curveMonotoneX)
})

starB.forEach((b, i) => {
  svg.append("text").attr("x", xC(b)).attr("y", yC(starLevel[i])).attr("dy", "0.58em")
    .attr("text-anchor", "middle").attr("font-size", 18).attr("font-weight", "bold").text("*")
})

svg.append("rect").attr("x", 51).attr("y", 916).attr("width", 411.3).attr("height", 410)
  .attr("fill", "none").attr("stroke", frame).attr("stroke-width", 1.3)
svg.append("g").attr("transform", "translate(0,1326)")
  .call(d3.axisBottom(xC).tickValues(ticksC).tickSize(-8).tickPadding(10))
  .call(g => styleAxis(g, 20))

// trace labels
const labelYC = [968, 1071.7, 1158, 1254]
namesC.forEach((n, i) => {
  svg.append("line").attr("x1", 57).attr("x2", 85).attr("y1", labelYC[i]).attr("y2", labelYC[i])
    .attr("stroke", colorsC[i]).attr("stroke-width", 2.4)
  svg.append("text").attr("x", 92).attr("y", labelYC[i] + 5).attr("font-size", 14)
    .attr("font-weight", "bold").text(n)
})

svg.append("rect").attr("x", 333).attr("y", 928).attr("width", 122).attr("height", 25)
  .attr("fill", "#fff").attr("stroke", frame).attr("stroke-width", 1.2)
svg.append("line").attr("x1", 338).attr("x2", 363).attr("y1", 941).attr("y2", 941)
  .attr("stroke", "#333").attr("stroke-width", 1.4).attr("stroke-dasharray", "6,4")
svg.append("text").attr("x", 368).attr("y", 947).attr("font-size", 16.4)
  .attr("font-weight", "bold").text("Simulation")

svg.append("text").attr("transform", "translate(41.5,1143) rotate(-90)")
  .attr("text-anchor", "middle").attr("font-size", 21).text("dχ''/dB")
svg.append("text").attr("x", 260).attr("y", 1370).attr("text-anchor", "middle")
  .attr("font-size", 20).text("B (mT)")
svg.append("text").attr("x", 13).attr("y", 943).attr("font-size", 34)
  .attr("font-weight", "bold").style("fill", "#111").text("C")
</script>
</body>
</html>
